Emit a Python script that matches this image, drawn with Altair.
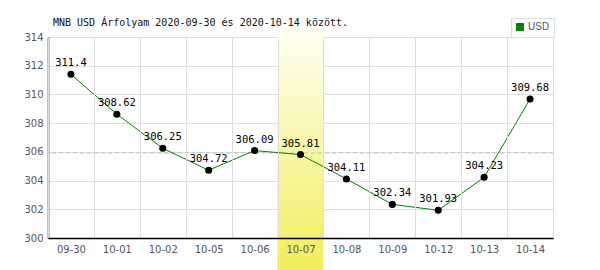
import altair as alt
import pandas as pd

dates = ["09-30", "10-01", "10-02", "10-05", "10-06", "10-07",
         "10-08", "10-09", "10-12", "10-13", "10-14"]
values = [311.4, 308.62, 306.25, 304.72, 306.09, 305.81,
          304.11, 302.34, 301.93, 304.23, 309.68]
series = ["USD"] * len(dates)
highlight = ["10-07"]
y_ticks = [300, 302, 304, 306, 308, 310, 312, 314]
title_text = "MNB USD Árfolyam 2020-09-30 és 2020-10-14 között."

df = pd.DataFrame({"d": dates, "v": values, "s": series})
hl = pd.DataFrame({"d": highlight})

W, H = 505, 201

x_scale = alt.Scale(domain=dates, paddingInner=0, paddingOuter=0)
x_axis = alt.Axis(labelAngle=0, labelAlign="center", labelFont="DejaVu Sans", labelFontSize=10,
                  labelColor="#555", labelPadding=6, ticks=False,
                  domainColor="#000", domainWidth=1.5, grid=True,
                  gridColor="#ddd", tickBand="extent", zindex=1)
x = alt.X("d:N", sort=dates, title=None, scale=x_scale, axis=x_axis)
y_scale = alt.Scale(domain=[300, 314], nice=False, zero=False)
y_axis = alt.Axis(values=y_ticks, labelFont="DejaVu Sans", labelFontSize=10,
                  labelColor="#555", labelPadding=5, ticks=False,
                  labelOverlap=False,
                  domainColor="#000", domainWidth=1.5, gridColor="#ddd")
y = alt.Y("v:Q", scale=y_scale, title=None, axis=y_axis)

grad = alt.LinearGradient(gradient="linear", x1=0, y1=0, x2=0, y2=1,
                          stops=[alt.GradientStop(color="#fffff4", offset=0),
                                 alt.GradientStop(color="#f0ee5c", offset=1)])

band = alt.Chart(hl).mark_rect(fill=grad).encode(
    x=x, y=alt.value(-9), y2=alt.value(H + 32))

line = alt.Chart(df).mark_line(strokeWidth=1).encode(
    x=x, y=y,
    color=alt.Color("s:N", scale=alt.Scale(domain=["USD"], range=["#008000"]),
                    legend=alt.Legend(title=None, orient="none", legendX=463, legendY=-19,
                                      symbolType="square", symbolSize=49,
                                      symbolFillColor="#008000", symbolStrokeWidth=1,
                                      labelFont="Liberation Sans", labelFontSize=10,
                                      labelOffset=3,
                                      labelColor="#555", strokeColor="#ddd",
                                      fillColor="#fff", padding=4)))

mean_rule = alt.Chart(df).transform_aggregate(m="mean(v)").mark_rule(
    color="#b4c8b4", strokeDash=[4, 3], strokeWidth=1).encode(
    y=alt.Y("m:Q", scale=y_scale, title=None, axis=y_axis))

points = alt.Chart(df).mark_circle(color="#000", opacity=1, size=50).encode(x=x, y=y)

labels = alt.Chart(df).mark_text(font="DejaVu Sans Mono", fontSize=10.5, dy=-11,
                                 color="#000").encode(x=x, y=y, text=alt.Text("v:Q"))

chart = alt.layer(band, mean_rule, line, points, labels).properties(
    width=W, height=H,
    title=alt.TitleParams(title_text, anchor="start", frame="group", dx=5, dy=10, offset=0,
                          font="DejaVu Sans Mono", fontSize=10, fontWeight="normal",
                          color="#111"),
    autosize=alt.AutoSizeParams(type="none"),
    padding={"left": 48, "top": 37, "right": 47, "bottom": 32},
).configure_view(stroke="#ddd", strokeWidth=1).configure_axis(gridWidth=1)

chart.save("out.html", embed_options={"renderer": "svg", "actions": False})
